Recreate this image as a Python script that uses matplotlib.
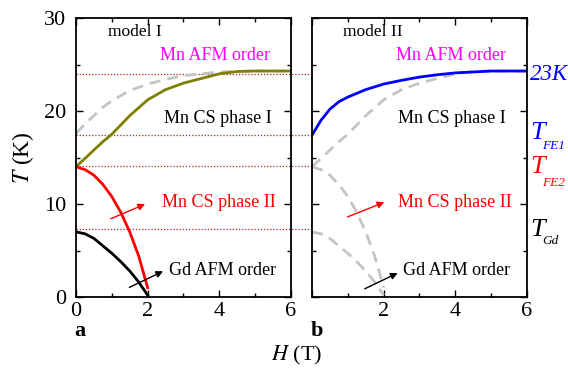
import numpy as np
import matplotlib
matplotlib.use('Agg')
import matplotlib.pyplot as plt

plt.rcParams['font.family'] = ['Liberation Serif', 'DejaVu Serif']
plt.rcParams['mathtext.fontset'] = 'stix'

# model I curves
H_olive = [0, 0.25, 0.5, 0.75, 1, 1.5, 2, 2.5, 3, 3.5, 4, 4.5, 5, 5.5, 6]
T_olive = [14.0, 14.9, 15.8, 16.7, 17.5, 19.5, 21.2, 22.3, 23.0, 23.5, 24.0, 24.25, 24.3, 24.3, 24.3]

H_red = [0, 0.25, 0.5, 0.75, 1, 1.25, 1.5, 1.75, 2]
T_red = [14.0, 13.7, 13.1, 12.1, 10.8, 9.1, 7.0, 4.4, 1.0]

H_black = [0, 0.25, 0.5, 0.75, 1, 1.25, 1.5, 1.75, 2]
T_black = [7.0, 6.8, 6.3, 5.5, 4.7, 3.8, 2.8, 1.6, 0.2]

H_grey = [0, 0.25, 0.5, 0.75, 1, 1.5, 2, 2.5, 3, 3.5, 4, 5, 6]
T_grey = [17.6, 18.6, 19.5, 20.4, 21.1, 22.2, 22.9, 23.4, 23.8, 24.0, 24.2, 24.3, 24.3]

# model II curve
H_blue = [0, 0.25, 0.5, 0.75, 1, 1.5, 2, 2.5, 3, 3.5, 4, 4.5, 5, 6]
T_blue = [17.4, 19.0, 20.2, 21.0, 21.5, 22.3, 22.9, 23.3, 23.65, 23.9, 24.1, 24.2, 24.3, 24.3]

# horizontal reference temperatures
T_ref = [24.0, 17.4, 14.1, 7.3]

fig = plt.figure(figsize=(5.68, 3.70), dpi=100)
axa = fig.add_axes([0.1338, 0.1973, 0.3785, 0.754])
axb = fig.add_axes([0.5493, 0.1973, 0.3785, 0.754])

grey = '#c4c4c4'
dash = dict(color=grey, lw=2, ls=(0, (4, 2.5)))

# model I
axa.plot(H_grey, T_grey, **dash)
axa.plot(H_olive, T_olive, color='#808000', lw=2)
axa.plot(H_red, T_red, color='#ff0000', lw=2)
axa.plot(H_black, T_black, color='black', lw=2)

# model II
axb.plot(H_olive, T_olive, **dash)
axb.plot(H_red, T_red, **dash)
axb.plot(H_black, T_black, **dash)
axb.plot(H_blue, T_blue, color='#0000ff', lw=2)

# dotted lines across both panels
ends = [12.6, 12.4, 12.45, 12.5]
for t, e in zip(T_ref, ends):
    axa.plot([0, e], [t, t], color='#a52a2a', lw=0.9, ls=(0, (1, 1.5)), clip_on=False, zorder=0)

for ax in (axa, axb):
    ax.set_xlim(0, 6)
    ax.set_ylim(0, 30)
    ax.set_xticks([0, 2, 4, 6])
    ax.set_xticks([1, 3, 5], minor=True)
    ax.set_yticks([0, 10, 20, 30])
    ax.set_yticks([5, 15, 25], minor=True)
    ax.tick_params(which='both', direction='in', top=True, right=True, labelsize=16)
    ax.tick_params(which='major', length=5, width=1)
    ax.tick_params(which='minor', length=3, width=1)
    ax.tick_params(axis='y', pad=7)
    for s in ax.spines.values():
        s.set_linewidth(1.3)

axb.set_xticklabels(['', '2', '4', '6'])
axb.set_yticklabels([])
axa.set_ylabel(r'$T$ (K)', fontsize=17, labelpad=6)
fig.text(0.523, 0.04, r'$H$ (T)', fontsize=16, ha='center', va='center')
fig.text(0.131, 0.105, 'a', fontsize=16, fontweight='bold', ha='left', va='center')
fig.text(0.547, 0.105, 'b', fontsize=16, fontweight='bold', ha='left', va='center')

# annotations, model I
fs = 13
axa.text(0.9, 28.5, 'model I', fontsize=12.5, va='center')
axa.text(2.35, 26.0, 'Mn AFM order', fontsize=fs, color='#ff00ff', va='center')
axa.text(2.45, 19.2, 'Mn CS phase I', fontsize=fs, va='center')
axa.text(2.4, 10.2, 'Mn CS phase II', fontsize=fs, color='#ff0000', va='center')
axa.text(2.6, 2.9, 'Gd AFM order', fontsize=fs, va='center')
axa.annotate('', xy=(2.0, 10.1), xytext=(0.9, 8.3),
             arrowprops=dict(arrowstyle='-|>', color='#ff0000', lw=1, mutation_scale=10))
axa.annotate('', xy=(2.5, 2.9), xytext=(1.42, 0.9),
             arrowprops=dict(arrowstyle='-|>', color='black', lw=1, mutation_scale=10))

# annotations, model II
axb.text(0.87, 28.5, 'model II', fontsize=12.5, va='center')
axb.text(2.35, 26.0, 'Mn AFM order', fontsize=fs, color='#ff00ff', va='center')
axb.text(2.4, 19.2, 'Mn CS phase I', fontsize=fs, va='center')
axb.text(2.4, 10.2, 'Mn CS phase II', fontsize=fs, color='#ff0000', va='center')
axb.text(2.55, 2.8, 'Gd AFM order', fontsize=fs, va='center')
axb.annotate('', xy=(2.09, 10.3), xytext=(0.92, 8.5),
             arrowprops=dict(arrowstyle='-|>', color='#ff0000', lw=1, mutation_scale=10))
axb.annotate('', xy=(2.46, 2.7), xytext=(1.4, 0.75),
             arrowprops=dict(arrowstyle='-|>', color='black', lw=1, mutation_scale=10))

# right-side labels: big italic T with small subscript set well below
axb.text(6.08, 23.9, '23K', fontsize=16.5, style='italic', color='#0000ff',
         va='center', ha='left', clip_on=False)
side = [('FE1', '#0000ff', 17.6, 16.2),
        ('FE2', '#ff0000', 14.0, 12.25),
        ('Gd', 'black', 7.2, 6.0)]
for sub, c, t_main, t_sub in side:
    axb.text(6.08, t_main, 'T', fontsize=19, style='italic', color=c,
             va='center', ha='left', clip_on=False)
    axb.text(6.42, t_sub, sub, fontsize=9.5, style='italic', color=c,
             va='center', ha='left', clip_on=False)

fig.savefig('out.png', dpi=100)
